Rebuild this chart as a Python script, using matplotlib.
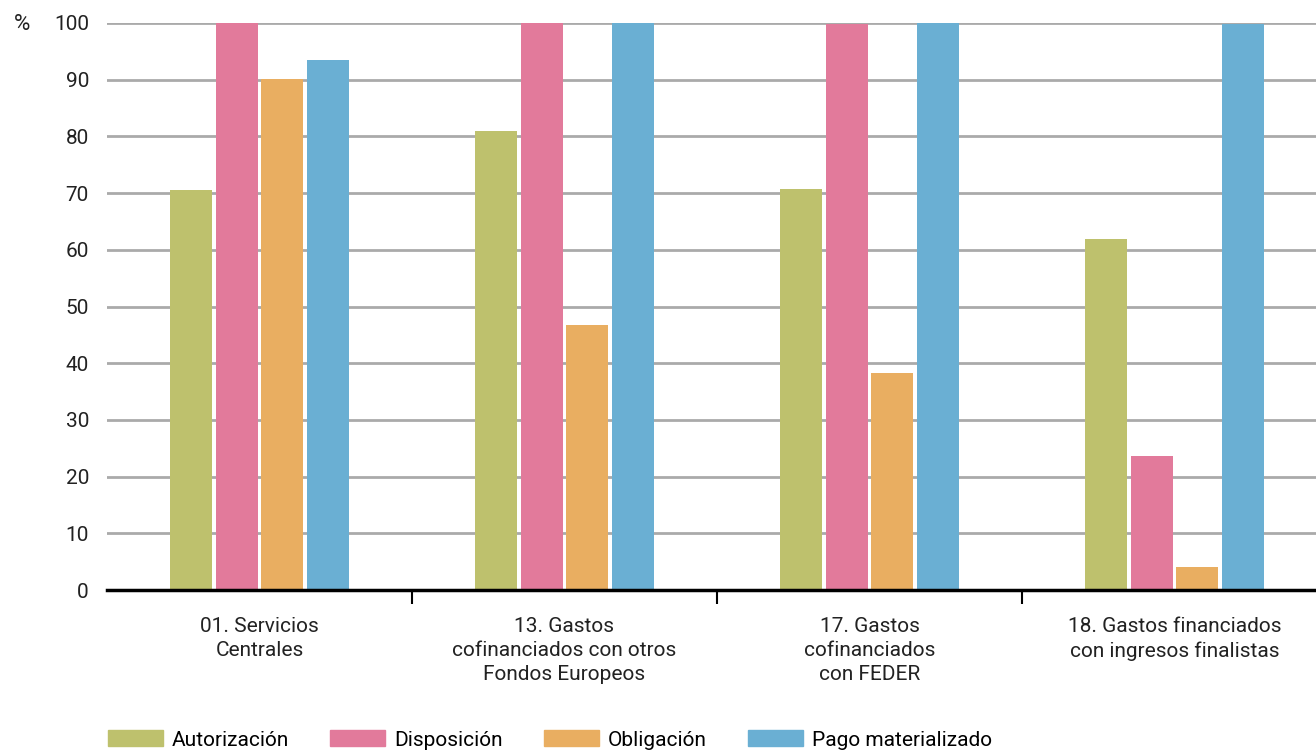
import numpy as np
import matplotlib.pyplot as plt
from matplotlib.patches import Patch

categorias = ["01. Servicios\nCentrales",
              "13. Gastos\ncofinanciados con otros\nFondos Europeos",
              "17. Gastos\ncofinanciados\ncon FEDER",
              "18. Gastos financiados\ncon ingresos finalistas"]
series = ["Autorización", "Disposición", "Obligación", "Pago materializado"]
autorizacion = [70.6, 81.0, 70.8, 61.9]
disposicion = [100.0, 100.0, 99.8, 23.6]
obligacion = [90.2, 46.7, 38.3, 4.0]
pago = [93.4, 100.0, 100.0, 99.8]
colores = ["#bec16d", "#e27a9b", "#e9ae61", "#6aafd3"]

plt.rcParams['font.family'] = ['Roboto', 'DejaVu Sans']

fig = plt.figure(figsize=(13.16, 7.53), dpi=100)
ax = fig.add_axes([107/1316, 1-590/753, 1220/1316, 567/753])

x = np.arange(len(categorias))
paso = 0.149
ancho = 0.138
datos = [autorizacion, disposicion, obligacion, pago]
for i, vals in enumerate(datos):
    ax.bar(x + (i - 1.5) * paso, vals, ancho, color=colores[i], zorder=3)

ax.set_xlim(-0.5, 3.5)
ax.set_ylim(0, 100)
ax.set_yticks(range(0, 101, 10))
ax.grid(axis='y', color='#aaaaaa', linewidth=2, zorder=0)
ax.set_axisbelow(True)
for s in ['top', 'right', 'left']:
    ax.spines[s].set_visible(False)
ax.spines['bottom'].set_linewidth(2.5)
ax.spines['bottom'].set_zorder(4)

ax.set_xticks([0.5, 1.5, 2.5])
ax.set_xticklabels([])
ax.tick_params(axis='x', length=10, width=1.5, direction='out', color='black')
ax.tick_params(axis='y', length=0, pad=13, labelsize=15, labelcolor='#222222')

for xi, lab in zip(x, categorias):
    ax.text(xi, -4.8, lab, ha='center', va='top', fontsize=15,
            color='#222222', linespacing=1.32, transform=ax.transData)

fig.text(22/1316, 1-24/753, "%", ha='center', va='center', fontsize=16, color='#222222')

handles = [Patch(color=c, label=s) for c, s in zip(colores, series)]
fig.legend(handles=handles, loc='center left', bbox_to_anchor=(89/1316, 1-740/753),
           ncol=4, frameon=False, fontsize=15, handlelength=2.65, handleheight=0.77,
           columnspacing=2.0, handletextpad=0.4)

fig.savefig("out.png", dpi=100)
